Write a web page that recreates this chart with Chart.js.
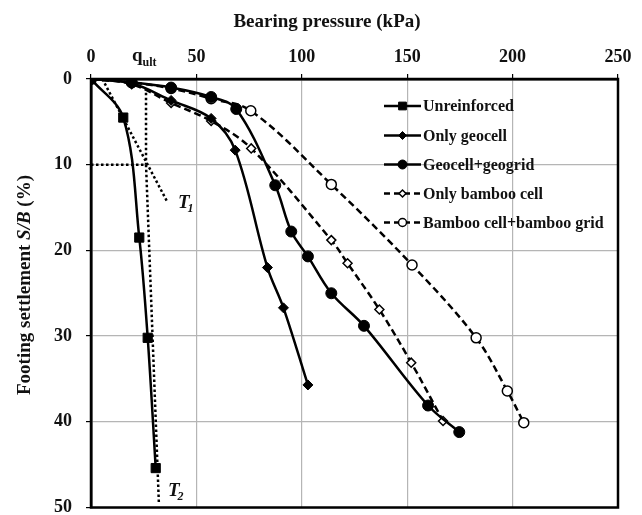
<!DOCTYPE html>
<html>
<head>
<meta charset="utf-8">
<script src="https://cdn.jsdelivr.net/npm/chart.js@4.4.0/dist/chart.umd.min.js"></script>
<style>
html, body { margin:0; padding:0; background:#fff; }
</style>
</head>
<body>
<canvas id="myChart" width="642" height="515"></canvas>
<script>
// data (x = bearing pressure kPa, y = S/B %)
var unreinfX = [0, 15.3, 22.9, 26.9, 30.7]
var unreinfY = [0, 4.5, 18.5, 30.2, 45.4]

var geocellX = [0, 19.3, 38, 57, 68.4, 83.7, 91.3, 102.9]
var geocellY = [0, 0.5, 2.5, 4.6, 8.3, 22.0, 26.7, 35.7]

var geogridX = [0, 19.3, 38, 57, 68.9, 87.4, 95, 102.9, 114, 129.5, 159.9, 174.7]
var geogridY = [0, 0.4, 1.0, 2.1, 3.5, 12.4, 17.8, 20.7, 25.0, 28.8, 38.1, 41.2]

var bambooX = [0, 19.3, 38, 57, 76, 114, 121.7, 136.8, 151.9, 167]
var bambooY = [0, 0.6, 2.8, 4.9, 8.1, 18.8, 21.5, 26.9, 33.1, 39.9]

var bambooGridX = [0, 19.3, 38, 57, 75.8, 114, 152.3, 182.7, 197.5, 205.3]
var bambooGridY = [0, 0.4, 1.1, 2.3, 3.7, 12.3, 21.7, 30.2, 36.4, 40.1]

// tangent construction lines
var t1X = [5.4, 35.9]
var t1Y = [0, 14.2]
var qultX = [26.1, 26.1]
var qultY = [1.6, 10]
var t2X = [26.1, 32.2]
var t2Y = [10, 49.5]
var hLineX = [0, 26.1]
var hLineY = [10, 10]

var xTicks = [0, 50, 100, 150, 200, 250]
var yTicks = [0, 10, 20, 30, 40, 50]

var seriesNames = ["Unreinforced", "Only geocell", "Geocell+geogrid", "Only bamboo cell", "Bamboo cell+bamboo grid"]

function pts(xs, ys){
    return xs.map(function(x, i){ return {x: x, y: ys[i]} })
}

function dotted(xs, ys){
    return {
        data: pts(xs, ys),
        showLine: true,
        borderColor: "#000",
        borderWidth: 2.5,
        borderDash: [2.5, 2.5],
        borderCapStyle: "butt",
        pointRadius: 0,
        tension: 0
    }
}

var styles = [
    {pointStyle: "rect", radius: 6.5, fill: "#000", dash: [], pw: 1},
    {pointStyle: "rectRot", radius: 5, fill: "#000", dash: [], pw: 1},
    {pointStyle: "circle", radius: 5.5, fill: "#000", dash: [], pw: 1},
    {pointStyle: "rectRot", radius: 4.5, fill: "#fff", dash: [7, 4], pw: 1.5},
    {pointStyle: "circle", radius: 5, fill: "#fff", dash: [7, 4], pw: 1.5}
]

var seriesData = [
    pts(unreinfX, unreinfY),
    pts(geocellX, geocellY),
    pts(geogridX, geogridY),
    pts(bambooX, bambooY),
    pts(bambooGridX, bambooGridY)
]

// chart.js paints dataset 0 on top, so the solid series go first
var datasets = []
for (var i = 0; i < 5; i++){
    var s = styles[i]
    datasets.push({
        label: seriesNames[i],
        data: seriesData[i],
        showLine: true,
        borderColor: "#000",
        borderWidth: 2.5,
        borderDash: s.dash,
        tension: 0.35,
        pointStyle: s.pointStyle,
        pointRadius: s.radius,
        pointBackgroundColor: s.fill,
        pointBorderColor: "#000",
        pointBorderWidth: s.pw
    })
}
datasets.push(dotted(t1X, t1Y), dotted(qultX, qultY), dotted(t2X, t2Y), dotted(hLineX, hLineY))

var serif = "'Liberation Serif', 'Times New Roman', serif"

var textPlugin = {
    id: "texts",
    afterDraw: function(chart){
        var ctx = chart.ctx
        var a = chart.chartArea
        ctx.save()
        // frame
        ctx.strokeStyle = "#000"
        ctx.lineWidth = 2.5
        ctx.strokeRect(a.left, a.top, a.right - a.left, a.bottom - a.top)

        ctx.fillStyle = "#111"
        ctx.textBaseline = "alphabetic"
        // x title
        ctx.font = "bold 19px " + serif
        ctx.textAlign = "center"
        ctx.fillText("Bearing pressure (kPa)", 327, 27)

        // y title, rotated, with italic S/B
        ctx.save()
        ctx.translate(30, 285)
        ctx.rotate(-Math.PI / 2)
        var parts = [["Footing settlement ", "bold"], ["S/B", "italic bold"], [" (%)", "bold"]]
        var total = 0
        parts.forEach(function(p){
            ctx.font = p[1] + " 19px " + serif
            total += ctx.measureText(p[0]).width
        })
        var px = -total / 2
        ctx.textAlign = "left"
        parts.forEach(function(p){
            ctx.font = p[1] + " 19px " + serif
            ctx.fillText(p[0], px, 0)
            px += ctx.measureText(p[0]).width
        })
        ctx.restore()

        // q_ult
        ctx.textAlign = "left"
        ctx.font = "bold 19px " + serif
        ctx.fillText("q", 132, 61)
        var qw = ctx.measureText("q").width
        ctx.font = "bold 12px " + serif
        ctx.fillText("ult", 132 + qw, 66)

        // T1 / T2
        ctx.font = "italic bold 19px " + serif
        ctx.fillText("T", 178, 208)
        ctx.fillText("T", 168, 496)
        var tw = ctx.measureText("T").width
        ctx.font = "italic bold 12px " + serif
        ctx.fillText("1", 178 + tw - 2, 212)
        ctx.fillText("2", 168 + tw - 2, 500)

        // legend
        var ly = [106, 135.5, 164.5, 193.5, 222.5]
        for (var i = 0; i < 5; i++){
            var s = styles[i]
            var y = ly[i]
            ctx.lineWidth = 2.5
            ctx.strokeStyle = "#000"
            ctx.setLineDash(s.dash.length ? [6, 4] : [])
            ctx.beginPath()
            ctx.moveTo(384, y)
            ctx.lineTo(421, y)
            ctx.stroke()
            ctx.setLineDash([])
            ctx.fillStyle = s.fill
            ctx.lineWidth = s.pw
            Chart.helpers.drawPoint(ctx, {pointStyle: s.pointStyle, radius: s.radius - 1, rotation: 0, borderWidth: s.pw}, 402.5, y)
            ctx.fillStyle = "#111"
            ctx.font = "bold 16px " + serif
            ctx.textBaseline = "middle"
            ctx.fillText(seriesNames[i], 423, y + 1)
            ctx.textBaseline = "alphabetic"
        }
        ctx.restore()
    }
}

var chart = new Chart(document.getElementById("myChart"), {
    type: "scatter",
    data: {datasets: datasets},
    options: {
        responsive: false,
        animation: false,
        devicePixelRatio: 1,
        layout: {padding: {left: 0, top: 0, right: 24, bottom: 5}},
        plugins: {
            legend: {display: false},
            tooltip: {enabled: false}
        },
        scales: {
            x: {
                type: "linear",
                position: "top",
                min: 0,
                max: 250,
                afterBuildTicks: function(scale){
                    scale.ticks = xTicks.map(function(v){ return {value: v} })
                },
                afterFit: function(scale){
                    scale.height = 79
                    scale.paddingLeft = 0
                    scale.paddingRight = 0
                },
                grid: {color: "#b5b5b5", lineWidth: 1.2, tickColor: "#000", tickLength: 5, drawOnChartArea: true},
                border: {color: "#000", width: 2.5},
                ticks: {color: "#111", padding: 6, font: {family: serif, size: 18, weight: "bold"}}
            },
            y: {
                type: "linear",
                reverse: true,
                min: 0,
                max: 50,
                afterBuildTicks: function(scale){
                    scale.ticks = yTicks.map(function(v){ return {value: v} })
                },
                afterFit: function(scale){
                    scale.width = 91
                    scale.paddingTop = 0
                    scale.paddingBottom = 0
                },
                grid: {color: "#b5b5b5", lineWidth: 1.2, tickColor: "#000", tickLength: 5},
                border: {color: "#000", width: 2.5},
                ticks: {color: "#111", padding: 14, font: {family: serif, size: 18, weight: "bold"}}
            }
        }
    },
    plugins: [textPlugin]
});
</script>
</body>
</html>
